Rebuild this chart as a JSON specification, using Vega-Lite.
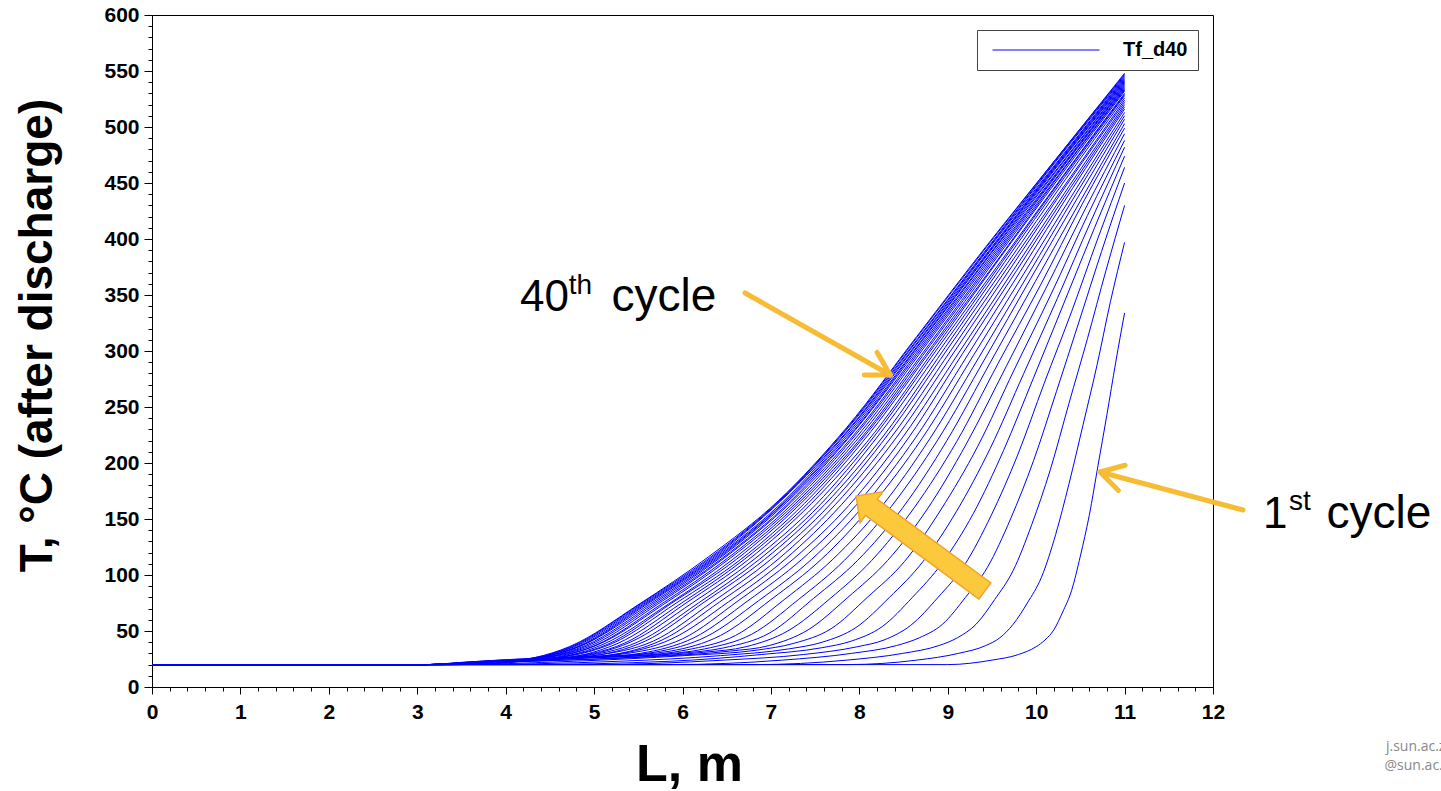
{
  "$schema": "https://vega.github.io/schema/vega-lite/v6.json",
  "width": 1061,
  "height": 672,
  "autosize": {"type": "none"},
  "padding": {"left": 152, "top": 15, "right": 228, "bottom": 104},
  "background": "white",
  "config": {"view": {"stroke": "#000", "strokeWidth": 1}, "font": "Liberation Sans"},
  "resolve": {"axis": {"x": "independent", "y": "independent"}},
  "datasets": {
    "curves": [
{"c":1,"L":11,"T":334},{"c":1,"L":10.9,"T":290},{"c":1,"L":10.8,"T":243},{"c":1,"L":10.7,"T":198},{"c":1,"L":10.6,"T":153},{"c":1,"L":10.5,"T":117},{"c":1,"L":10.4,"T":86},{"c":1,"L":10.3,"T":67},{"c":1,"L":10.2,"T":51},{"c":1,"L":10.1,"T":42},{"c":1,"L":10,"T":36},{"c":1,"L":9.8,"T":29},{"c":1,"L":9.5,"T":24},{"c":1,"L":9,"T":20},{"c":1,"L":0,"T":20},
{"c":2,"L":11,"T":397},{"c":2,"L":10.84,"T":344},{"c":2,"L":10.69,"T":288},{"c":2,"L":10.53,"T":234},{"c":2,"L":10.37,"T":181},{"c":2,"L":10.22,"T":136},{"c":2,"L":10.06,"T":98},{"c":2,"L":9.9,"T":75},{"c":2,"L":9.74,"T":56},{"c":2,"L":9.59,"T":44},{"c":2,"L":9.43,"T":37},{"c":2,"L":9.12,"T":30},{"c":2,"L":8.65,"T":24},{"c":2,"L":7.86,"T":20},{"c":2,"L":0,"T":20},
{"c":3,"L":11,"T":430},{"c":3,"L":10.79,"T":372},{"c":3,"L":10.58,"T":311},{"c":3,"L":10.37,"T":253},{"c":3,"L":10.16,"T":194},{"c":3,"L":9.95,"T":145},{"c":3,"L":9.74,"T":104},{"c":3,"L":9.53,"T":78},{"c":3,"L":9.32,"T":56},{"c":3,"L":9.11,"T":44},{"c":3,"L":8.9,"T":37},{"c":3,"L":8.49,"T":30},{"c":3,"L":7.86,"T":24},{"c":3,"L":6.81,"T":20},{"c":3,"L":0,"T":20},
{"c":4,"L":11,"T":450},{"c":4,"L":10.74,"T":389},{"c":4,"L":10.48,"T":325},{"c":4,"L":10.23,"T":264},{"c":4,"L":9.97,"T":202},{"c":4,"L":9.71,"T":150},{"c":4,"L":9.45,"T":107},{"c":4,"L":9.2,"T":80},{"c":4,"L":8.94,"T":56},{"c":4,"L":8.68,"T":44},{"c":4,"L":8.42,"T":37},{"c":4,"L":7.91,"T":30},{"c":4,"L":7.13,"T":24},{"c":4,"L":5.85,"T":20},{"c":4,"L":0,"T":20},
{"c":5,"L":11,"T":464},{"c":5,"L":10.7,"T":401},{"c":5,"L":10.4,"T":335},{"c":5,"L":10.09,"T":271},{"c":5,"L":9.79,"T":207},{"c":5,"L":9.49,"T":153},{"c":5,"L":9.19,"T":109},{"c":5,"L":8.89,"T":80},{"c":5,"L":8.58,"T":55},{"c":5,"L":8.28,"T":42},{"c":5,"L":7.98,"T":36},{"c":5,"L":7.37,"T":29},{"c":5,"L":6.47,"T":24},{"c":5,"L":4.96,"T":20},{"c":5,"L":0,"T":20},
{"c":6,"L":11,"T":474},{"c":6,"L":10.66,"T":410},{"c":6,"L":10.31,"T":342},{"c":6,"L":9.97,"T":276},{"c":6,"L":9.63,"T":211},{"c":6,"L":9.29,"T":155},{"c":6,"L":8.94,"T":111},{"c":6,"L":8.6,"T":80},{"c":6,"L":8.26,"T":54},{"c":6,"L":7.91,"T":41},{"c":6,"L":7.57,"T":35},{"c":6,"L":6.89,"T":29},{"c":6,"L":5.86,"T":23},{"c":6,"L":4.14,"T":20},{"c":6,"L":0,"T":20},
{"c":7,"L":11,"T":482},{"c":7,"L":10.62,"T":416},{"c":7,"L":10.24,"T":347},{"c":7,"L":9.86,"T":280},{"c":7,"L":9.48,"T":213},{"c":7,"L":9.1,"T":157},{"c":7,"L":8.72,"T":112},{"c":7,"L":8.34,"T":80},{"c":7,"L":7.96,"T":53},{"c":7,"L":7.58,"T":40},{"c":7,"L":7.2,"T":34},{"c":7,"L":6.43,"T":28},{"c":7,"L":5.29,"T":23},{"c":7,"L":3.39,"T":20},{"c":7,"L":0,"T":20},
{"c":8,"L":11,"T":488},{"c":8,"L":10.58,"T":421},{"c":8,"L":10.17,"T":351},{"c":8,"L":9.75,"T":283},{"c":8,"L":9.34,"T":215},{"c":8,"L":8.92,"T":158},{"c":8,"L":8.51,"T":112},{"c":8,"L":8.09,"T":80},{"c":8,"L":7.68,"T":52},{"c":8,"L":7.26,"T":39},{"c":8,"L":6.85,"T":33},{"c":8,"L":6.02,"T":28},{"c":8,"L":4.77,"T":23},{"c":8,"L":3.3,"T":20},{"c":8,"L":0,"T":20},
{"c":9,"L":11,"T":494},{"c":9,"L":10.55,"T":426},{"c":9,"L":10.11,"T":356},{"c":9,"L":9.66,"T":286},{"c":9,"L":9.21,"T":217},{"c":9,"L":8.77,"T":159},{"c":9,"L":8.32,"T":113},{"c":9,"L":7.87,"T":80},{"c":9,"L":7.42,"T":51},{"c":9,"L":6.98,"T":37},{"c":9,"L":6.53,"T":32},{"c":9,"L":5.64,"T":27},{"c":9,"L":4.3,"T":23},{"c":9,"L":3.3,"T":20},{"c":9,"L":0,"T":20},
{"c":10,"L":11,"T":499},{"c":10,"L":10.52,"T":431},{"c":10,"L":10.05,"T":359},{"c":10,"L":9.57,"T":289},{"c":10,"L":9.1,"T":219},{"c":10,"L":8.62,"T":160},{"c":10,"L":8.14,"T":113},{"c":10,"L":7.67,"T":79},{"c":10,"L":7.19,"T":50},{"c":10,"L":6.72,"T":36},{"c":10,"L":6.24,"T":31},{"c":10,"L":5.29,"T":26},{"c":10,"L":3.86,"T":22},{"c":10,"L":3.2,"T":20},{"c":10,"L":0,"T":20},
{"c":11,"L":11,"T":503},{"c":11,"L":10.5,"T":434},{"c":11,"L":9.99,"T":362},{"c":11,"L":9.49,"T":291},{"c":11,"L":8.99,"T":220},{"c":11,"L":8.49,"T":160},{"c":11,"L":7.98,"T":113},{"c":11,"L":7.48,"T":79},{"c":11,"L":6.98,"T":48},{"c":11,"L":6.47,"T":35},{"c":11,"L":5.97,"T":30},{"c":11,"L":4.96,"T":26},{"c":11,"L":3.46,"T":21},{"c":11,"L":3.1,"T":20},{"c":11,"L":0,"T":20},
{"c":12,"L":11,"T":507},{"c":12,"L":10.47,"T":437},{"c":12,"L":9.94,"T":365},{"c":12,"L":9.42,"T":293},{"c":12,"L":8.89,"T":221},{"c":12,"L":8.36,"T":161},{"c":12,"L":7.83,"T":113},{"c":12,"L":7.31,"T":78},{"c":12,"L":6.78,"T":47},{"c":12,"L":6.25,"T":34},{"c":12,"L":5.72,"T":29},{"c":12,"L":4.67,"T":26},{"c":12,"L":3.1,"T":20},{"c":12,"L":0,"T":20},
{"c":13,"L":11,"T":510},{"c":13,"L":10.45,"T":440},{"c":13,"L":9.9,"T":367},{"c":13,"L":9.35,"T":294},{"c":13,"L":8.8,"T":222},{"c":13,"L":8.25,"T":161},{"c":13,"L":7.7,"T":114},{"c":13,"L":7.15,"T":78},{"c":13,"L":6.6,"T":46},{"c":13,"L":6.04,"T":33},{"c":13,"L":5.49,"T":28},{"c":13,"L":4.39,"T":25},{"c":13,"L":3.1,"T":20},{"c":13,"L":0,"T":20},
{"c":14,"L":11,"T":513},{"c":14,"L":10.43,"T":442},{"c":14,"L":9.86,"T":369},{"c":14,"L":9.29,"T":296},{"c":14,"L":8.71,"T":222},{"c":14,"L":8.14,"T":162},{"c":14,"L":7.57,"T":114},{"c":14,"L":7,"T":78},{"c":14,"L":6.43,"T":46},{"c":14,"L":5.86,"T":32},{"c":14,"L":5.29,"T":28},{"c":14,"L":4.14,"T":25},{"c":14,"L":3.1,"T":20},{"c":14,"L":0,"T":20},
{"c":15,"L":11,"T":516},{"c":15,"L":10.41,"T":445},{"c":15,"L":9.82,"T":371},{"c":15,"L":9.23,"T":297},{"c":15,"L":8.64,"T":223},{"c":15,"L":8.05,"T":162},{"c":15,"L":7.46,"T":114},{"c":15,"L":6.86,"T":77},{"c":15,"L":6.27,"T":45},{"c":15,"L":5.68,"T":31},{"c":15,"L":5.09,"T":27},{"c":15,"L":3.91,"T":24},{"c":15,"L":3.1,"T":20},{"c":15,"L":0,"T":20},
{"c":16,"L":11,"T":518},{"c":16,"L":10.39,"T":446},{"c":16,"L":9.78,"T":372},{"c":16,"L":9.17,"T":298},{"c":16,"L":8.57,"T":224},{"c":16,"L":7.96,"T":162},{"c":16,"L":7.35,"T":114},{"c":16,"L":6.74,"T":77},{"c":16,"L":6.13,"T":44},{"c":16,"L":5.52,"T":30},{"c":16,"L":4.91,"T":26},{"c":16,"L":3.7,"T":23},{"c":16,"L":3.1,"T":20},{"c":16,"L":0,"T":20},
{"c":17,"L":11,"T":520},{"c":17,"L":10.38,"T":448},{"c":17,"L":9.75,"T":373},{"c":17,"L":9.13,"T":299},{"c":17,"L":8.5,"T":224},{"c":17,"L":7.88,"T":162},{"c":17,"L":7.25,"T":114},{"c":17,"L":6.63,"T":77},{"c":17,"L":6,"T":43},{"c":17,"L":5.38,"T":30},{"c":17,"L":4.75,"T":26},{"c":17,"L":3.5,"T":22},{"c":17,"L":3.1,"T":20},{"c":17,"L":0,"T":20},
{"c":18,"L":11,"T":522},{"c":18,"L":10.36,"T":450},{"c":18,"L":9.72,"T":375},{"c":18,"L":9.08,"T":300},{"c":18,"L":8.44,"T":225},{"c":18,"L":7.8,"T":163},{"c":18,"L":7.16,"T":114},{"c":18,"L":6.52,"T":76},{"c":18,"L":5.88,"T":43},{"c":18,"L":5.24,"T":29},{"c":18,"L":4.6,"T":25},{"c":18,"L":3.1,"T":20},{"c":18,"L":0,"T":20},
{"c":19,"L":11,"T":524},{"c":19,"L":10.35,"T":451},{"c":19,"L":9.69,"T":376},{"c":19,"L":9.04,"T":301},{"c":19,"L":8.38,"T":225},{"c":19,"L":7.73,"T":163},{"c":19,"L":7.08,"T":114},{"c":19,"L":6.42,"T":76},{"c":19,"L":5.77,"T":42},{"c":19,"L":5.12,"T":28},{"c":19,"L":4.46,"T":25},{"c":19,"L":3.1,"T":20},{"c":19,"L":0,"T":20},
{"c":20,"L":11,"T":526},{"c":20,"L":10.33,"T":453},{"c":20,"L":9.67,"T":378},{"c":20,"L":9,"T":302},{"c":20,"L":8.33,"T":226},{"c":20,"L":7.67,"T":163},{"c":20,"L":7,"T":114},{"c":20,"L":6.34,"T":76},{"c":20,"L":5.67,"T":41},{"c":20,"L":5,"T":28},{"c":20,"L":4.34,"T":24},{"c":20,"L":3.1,"T":20},{"c":20,"L":0,"T":20},
{"c":21,"L":11,"T":528},{"c":21,"L":10.32,"T":455},{"c":21,"L":9.64,"T":379},{"c":21,"L":8.97,"T":303},{"c":21,"L":8.29,"T":226},{"c":21,"L":7.61,"T":163},{"c":21,"L":6.93,"T":114},{"c":21,"L":6.25,"T":76},{"c":21,"L":5.58,"T":41},{"c":21,"L":4.9,"T":27},{"c":21,"L":4.22,"T":24},{"c":21,"L":3.1,"T":20},{"c":21,"L":0,"T":20},
{"c":22,"L":11,"T":529},{"c":22,"L":10.31,"T":456},{"c":22,"L":9.62,"T":380},{"c":22,"L":8.93,"T":303},{"c":22,"L":8.24,"T":227},{"c":22,"L":7.56,"T":163},{"c":22,"L":6.87,"T":114},{"c":22,"L":6.18,"T":75},{"c":22,"L":5.49,"T":40},{"c":22,"L":4.8,"T":27},{"c":22,"L":4.11,"T":24},{"c":22,"L":3.1,"T":20},{"c":22,"L":0,"T":20},
{"c":23,"L":11,"T":530},{"c":23,"L":10.3,"T":456},{"c":23,"L":9.6,"T":380},{"c":23,"L":8.9,"T":304},{"c":23,"L":8.2,"T":227},{"c":23,"L":7.51,"T":163},{"c":23,"L":6.81,"T":114},{"c":23,"L":6.11,"T":75},{"c":23,"L":5.41,"T":40},{"c":23,"L":4.71,"T":26},{"c":23,"L":4.01,"T":23},{"c":23,"L":3.1,"T":20},{"c":23,"L":0,"T":20},
{"c":24,"L":11,"T":532},{"c":24,"L":10.29,"T":458},{"c":24,"L":9.58,"T":382},{"c":24,"L":8.88,"T":305},{"c":24,"L":8.17,"T":227},{"c":24,"L":7.46,"T":164},{"c":24,"L":6.75,"T":114},{"c":24,"L":6.04,"T":75},{"c":24,"L":5.34,"T":39},{"c":24,"L":4.63,"T":26},{"c":24,"L":3.92,"T":23},{"c":24,"L":3.1,"T":20},{"c":24,"L":0,"T":20},
{"c":25,"L":11,"T":533},{"c":25,"L":10.28,"T":459},{"c":25,"L":9.57,"T":382},{"c":25,"L":8.85,"T":305},{"c":25,"L":8.13,"T":228},{"c":25,"L":7.42,"T":164},{"c":25,"L":6.7,"T":114},{"c":25,"L":5.99,"T":75},{"c":25,"L":5.27,"T":39},{"c":25,"L":4.55,"T":25},{"c":25,"L":3.84,"T":23},{"c":25,"L":3.1,"T":20},{"c":25,"L":0,"T":20},
{"c":26,"L":11,"T":534},{"c":26,"L":10.28,"T":460},{"c":26,"L":9.55,"T":383},{"c":26,"L":8.83,"T":305},{"c":26,"L":8.1,"T":228},{"c":26,"L":7.38,"T":164},{"c":26,"L":6.66,"T":114},{"c":26,"L":5.93,"T":75},{"c":26,"L":5.21,"T":39},{"c":26,"L":4.48,"T":25},{"c":26,"L":3.76,"T":22},{"c":26,"L":3.1,"T":20},{"c":26,"L":0,"T":20},
{"c":27,"L":11,"T":535},{"c":27,"L":10.27,"T":461},{"c":27,"L":9.54,"T":384},{"c":27,"L":8.81,"T":306},{"c":27,"L":8.08,"T":228},{"c":27,"L":7.34,"T":164},{"c":27,"L":6.61,"T":114},{"c":27,"L":5.88,"T":75},{"c":27,"L":5.15,"T":38},{"c":27,"L":4.42,"T":25},{"c":27,"L":3.69,"T":22},{"c":27,"L":3.1,"T":20},{"c":27,"L":0,"T":20},
{"c":28,"L":11,"T":536},{"c":28,"L":10.26,"T":461},{"c":28,"L":9.52,"T":384},{"c":28,"L":8.79,"T":306},{"c":28,"L":8.05,"T":228},{"c":28,"L":7.31,"T":164},{"c":28,"L":6.57,"T":114},{"c":28,"L":5.84,"T":74},{"c":28,"L":5.1,"T":38},{"c":28,"L":4.36,"T":24},{"c":28,"L":3.62,"T":22},{"c":28,"L":3.1,"T":20},{"c":28,"L":0,"T":20},
{"c":29,"L":11,"T":537},{"c":29,"L":10.26,"T":462},{"c":29,"L":9.51,"T":385},{"c":29,"L":8.77,"T":307},{"c":29,"L":8.03,"T":229},{"c":29,"L":7.28,"T":164},{"c":29,"L":6.54,"T":115},{"c":29,"L":5.79,"T":74},{"c":29,"L":5.05,"T":38},{"c":29,"L":4.31,"T":24},{"c":29,"L":3.56,"T":22},{"c":29,"L":3.1,"T":20},{"c":29,"L":0,"T":20},
{"c":30,"L":11,"T":538},{"c":30,"L":10.25,"T":463},{"c":30,"L":9.5,"T":386},{"c":30,"L":8.75,"T":307},{"c":30,"L":8,"T":229},{"c":30,"L":7.25,"T":164},{"c":30,"L":6.51,"T":115},{"c":30,"L":5.76,"T":74},{"c":30,"L":5.01,"T":37},{"c":30,"L":4.26,"T":24},{"c":30,"L":3.51,"T":20},{"c":30,"L":0,"T":20},
{"c":31,"L":11,"T":539},{"c":31,"L":10.25,"T":464},{"c":31,"L":9.49,"T":387},{"c":31,"L":8.74,"T":308},{"c":31,"L":7.98,"T":229},{"c":31,"L":7.23,"T":165},{"c":31,"L":6.47,"T":115},{"c":31,"L":5.72,"T":74},{"c":31,"L":4.97,"T":37},{"c":31,"L":4.21,"T":24},{"c":31,"L":3.46,"T":20},{"c":31,"L":0,"T":20},
{"c":32,"L":11,"T":540},{"c":32,"L":10.24,"T":465},{"c":32,"L":9.48,"T":387},{"c":32,"L":8.72,"T":308},{"c":32,"L":7.96,"T":230},{"c":32,"L":7.21,"T":165},{"c":32,"L":6.45,"T":115},{"c":32,"L":5.69,"T":74},{"c":32,"L":4.93,"T":37},{"c":32,"L":4.17,"T":23},{"c":32,"L":3.41,"T":20},{"c":32,"L":0,"T":20},
{"c":33,"L":11,"T":541},{"c":33,"L":10.24,"T":466},{"c":33,"L":9.47,"T":388},{"c":33,"L":8.71,"T":309},{"c":33,"L":7.95,"T":230},{"c":33,"L":7.18,"T":165},{"c":33,"L":6.42,"T":115},{"c":33,"L":5.66,"T":74},{"c":33,"L":4.9,"T":37},{"c":33,"L":4.13,"T":23},{"c":33,"L":3.37,"T":20},{"c":33,"L":0,"T":20},
{"c":34,"L":11,"T":542},{"c":34,"L":10.23,"T":466},{"c":34,"L":9.47,"T":389},{"c":34,"L":8.7,"T":309},{"c":34,"L":7.93,"T":230},{"c":34,"L":7.16,"T":165},{"c":34,"L":6.4,"T":115},{"c":34,"L":5.63,"T":74},{"c":34,"L":4.86,"T":37},{"c":34,"L":4.1,"T":23},{"c":34,"L":3.33,"T":20},{"c":34,"L":0,"T":20},
{"c":35,"L":11,"T":543},{"c":35,"L":10.23,"T":467},{"c":35,"L":9.46,"T":389},{"c":35,"L":8.69,"T":310},{"c":35,"L":7.92,"T":231},{"c":35,"L":7.15,"T":165},{"c":35,"L":6.38,"T":115},{"c":35,"L":5.6,"T":74},{"c":35,"L":4.83,"T":36},{"c":35,"L":4.06,"T":23},{"c":35,"L":3.29,"T":20},{"c":35,"L":0,"T":20},
{"c":36,"L":11,"T":544},{"c":36,"L":10.23,"T":468},{"c":36,"L":9.45,"T":390},{"c":36,"L":8.68,"T":310},{"c":36,"L":7.9,"T":231},{"c":36,"L":7.13,"T":165},{"c":36,"L":6.36,"T":115},{"c":36,"L":5.58,"T":74},{"c":36,"L":4.81,"T":36},{"c":36,"L":4.03,"T":23},{"c":36,"L":3.26,"T":20},{"c":36,"L":0,"T":20},
{"c":37,"L":11,"T":545},{"c":37,"L":10.22,"T":469},{"c":37,"L":9.45,"T":391},{"c":37,"L":8.67,"T":311},{"c":37,"L":7.89,"T":231},{"c":37,"L":7.11,"T":166},{"c":37,"L":6.34,"T":115},{"c":37,"L":5.56,"T":74},{"c":37,"L":4.78,"T":36},{"c":37,"L":4,"T":23},{"c":37,"L":3.23,"T":20},{"c":37,"L":0,"T":20},
{"c":38,"L":11,"T":546},{"c":38,"L":10.22,"T":470},{"c":38,"L":9.44,"T":391},{"c":38,"L":8.66,"T":311},{"c":38,"L":7.88,"T":232},{"c":38,"L":7.1,"T":166},{"c":38,"L":6.32,"T":115},{"c":38,"L":5.54,"T":74},{"c":38,"L":4.76,"T":36},{"c":38,"L":3.98,"T":22},{"c":38,"L":3.2,"T":20},{"c":38,"L":0,"T":20},
{"c":39,"L":11,"T":547},{"c":39,"L":10.22,"T":471},{"c":39,"L":9.43,"T":392},{"c":39,"L":8.65,"T":312},{"c":39,"L":7.87,"T":232},{"c":39,"L":7.09,"T":166},{"c":39,"L":6.3,"T":115},{"c":39,"L":5.52,"T":74},{"c":39,"L":4.74,"T":36},{"c":39,"L":3.96,"T":22},{"c":39,"L":3.17,"T":20},{"c":39,"L":0,"T":20},
{"c":40,"L":11,"T":548},{"c":40,"L":10.22,"T":471},{"c":40,"L":9.43,"T":393},{"c":40,"L":8.65,"T":313},{"c":40,"L":7.86,"T":232},{"c":40,"L":7.08,"T":166},{"c":40,"L":6.29,"T":116},{"c":40,"L":5.51,"T":74},{"c":40,"L":4.72,"T":36},{"c":40,"L":3.94,"T":22},{"c":40,"L":3.15,"T":20},{"c":40,"L":0,"T":20}
    ]
  },
  "layer": [
    {
      "data": {"name": "curves"},
      "mark": {"type": "line", "strokeWidth": 1, "interpolate": "monotone", "clip": true},
      "encoding": {
        "x": {
          "field": "L", "type": "quantitative",
          "scale": {"domain": [0, 12], "nice": false, "zero": false},
          "axis": {
            "orient": "bottom",
            "values": [0,1,2,3,4,5,6,7,8,9,10,11,12], "format": "d",
            "title": "L, m", "titleFont": "Liberation Sans", "titleFontSize": 52, "titleFontWeight": "bold", "titleColor": "#000", "titlePadding": 17, "titleX": 537,
            "labelFont": "Liberation Sans", "labelFontSize": 21, "labelFontWeight": "bold", "labelColor": "#000",
            "labelPadding": 7, "labelOverlap": false, "labelFlush": false,
            "tickSize": 7, "tickColor": "#000", "domainColor": "#000", "grid": false
          }
        },
        "y": {
          "field": "T", "type": "quantitative",
          "scale": {"domain": [0, 600], "nice": false},
          "axis": {
            "orient": "left",
            "values": [0,50,100,150,200,250,300,350,400,450,500,550,600], "format": "d",
            "title": "T, °C (after discharge)", "titleFont": "Liberation Sans", "titleFontSize": 46, "titleFontWeight": "bold", "titleColor": "#000", "titlePadding": 42, "titleY": 320,
            "labelFont": "Liberation Sans", "labelFontSize": 21, "labelFontWeight": "bold", "labelColor": "#000",
            "labelPadding": 5, "labelOverlap": false,
            "tickSize": 8, "tickColor": "#000", "domainColor": "#000", "grid": false
          }
        },
        "detail": {"field": "c", "type": "nominal"},
        "color": {
          "datum": "Tf_d40", "type": "nominal",
          "scale": {"range": ["#0000ff"]},
          "legend": {
            "orient": "top-right", "offset": 15, "title": null,
            "symbolType": "M-7.13,0H7.13", "symbolSize": 225, "symbolStrokeWidth": 1, "symbolStrokeColor": "#0000ff", "symbolFillColor": "transparent",
            "symbolOffset": 49, "labelOffset": 67,
            "labelFont": "Liberation Sans", "labelFontSize": 20, "labelFontWeight": "bold", "labelColor": "#000",
            "padding": 10, "strokeColor": "#444", "fillColor": "#fff"
          }
        }
      }
    },
    {
      "data": {"values": [{"L": 0, "T": 0}]},
      "mark": {"type": "point", "opacity": 0},
      "encoding": {
        "x": {
          "field": "L", "type": "quantitative",
          "axis": {
            "orient": "bottom",
            "values": [0.2,0.4,0.6,0.8,1.2,1.4,1.6,1.8,2.2,2.4,2.6,2.8,3.2,3.4,3.6,3.8,4.2,4.4,4.6,4.8,5.2,5.4,5.6,5.8,6.2,6.4,6.6,6.8,7.2,7.4,7.6,7.8,8.2,8.4,8.6,8.8,9.2,9.4,9.6,9.8,10.2,10.4,10.6,10.8,11.2,11.4,11.6,11.8],
            "labels": false, "domain": false, "title": null, "grid": false, "tickSize": 4, "tickColor": "#000"
          }
        },
        "y": {
          "field": "T", "type": "quantitative",
          "axis": {
            "orient": "left",
            "values": [10,20,30,40,60,70,80,90,110,120,130,140,160,170,180,190,210,220,230,240,260,270,280,290,310,320,330,340,360,370,380,390,410,420,430,440,460,470,480,490,510,520,530,540,560,570,580,590],
            "labels": false, "domain": false, "title": null, "grid": false, "tickSize": 4, "tickColor": "#000"
          }
        }
      }
    },
    {
      "data": {"values": [
        {"L": 6.707, "T": 351.8, "L2": 8.35, "T2": 278.6},
        {"L": 8.056, "T": 278.5, "L2": 8.35, "T2": 278.6},
        {"L": 8.201, "T": 298.7, "L2": 8.35, "T2": 278.6},
        {"L": 12.339, "T": 158.0, "L2": 10.722, "T2": 192.0},
        {"L": 11.006, "T": 198.0, "L2": 10.722, "T2": 192.0},
        {"L": 10.93, "T": 175.5, "L2": 10.722, "T2": 192.0}
      ]},
      "mark": {"type": "rule", "color": "#F7BB34", "strokeWidth": 5, "strokeCap": "round"},
      "encoding": {
        "x": {"field": "L", "type": "quantitative", "axis": null},
        "y": {"field": "T", "type": "quantitative", "axis": null},
        "x2": {"field": "L2"},
        "y2": {"field": "T2"}
      }
    },
    {
      "data": {"values": [{"L": 8.692, "T": 128.1}]},
      "mark": {"type": "point", "shape": "M-1,-0.125L0.7625,-0.125L0.7625,-0.24L1,0L0.7625,0.24L0.7625,0.125L-1,0.125Z", "size": 25600, "angle": 216.4, "filled": true, "fill": "#FCC93C", "stroke": "#EFA62A", "strokeWidth": 1.5, "opacity": 1},
      "encoding": {
        "x": {"field": "L", "type": "quantitative", "axis": null},
        "y": {"field": "T", "type": "quantitative", "axis": null}
      }
    },
    {
      "data": {"values": [
        {"L": 4.162, "T": 335.7, "s": "40"},
        {"L": 12.565, "T": 142, "s": "1"}
      ]},
      "mark": {"type": "text", "font": "Liberation Sans", "fontSize": 44, "align": "left", "baseline": "alphabetic", "color": "#000"},
      "encoding": {
        "x": {"field": "L", "type": "quantitative", "axis": null},
        "y": {"field": "T", "type": "quantitative", "axis": null},
        "text": {"field": "s"}
      }
    },
    {
      "data": {"values": [
        {"L": 5.196, "T": 335.7, "s": "cycle"},
        {"L": 13.283, "T": 142, "s": "cycle"}
      ]},
      "mark": {"type": "text", "font": "Liberation Sans", "fontSize": 46, "align": "left", "baseline": "alphabetic", "color": "#000"},
      "encoding": {
        "x": {"field": "L", "type": "quantitative", "axis": null},
        "y": {"field": "T", "type": "quantitative", "axis": null},
        "text": {"field": "s"}
      }
    },
    {
      "data": {"values": [
        {"L": 4.714, "T": 350.9, "s": "th"},
        {"L": 12.859, "T": 158, "s": "st"}
      ]},
      "mark": {"type": "text", "font": "Liberation Sans", "fontSize": 28, "align": "left", "baseline": "alphabetic", "color": "#000"},
      "encoding": {
        "x": {"field": "L", "type": "quantitative", "axis": null},
        "y": {"field": "T", "type": "quantitative", "axis": null},
        "text": {"field": "s"}
      }
    },
    {
      "data": {"values": [
        {"L": 13.956, "T": -57, "s": "j.sun.ac.za"},
        {"L": 13.94, "T": -74, "s": "@sun.ac.za"}
      ]},
      "mark": {"type": "text", "font": "Open Sans", "fontSize": 14, "align": "left", "baseline": "alphabetic", "color": "#888"},
      "encoding": {
        "x": {"field": "L", "type": "quantitative", "axis": null},
        "y": {"field": "T", "type": "quantitative", "axis": null},
        "text": {"field": "s"}
      }
    }
  ]
}
